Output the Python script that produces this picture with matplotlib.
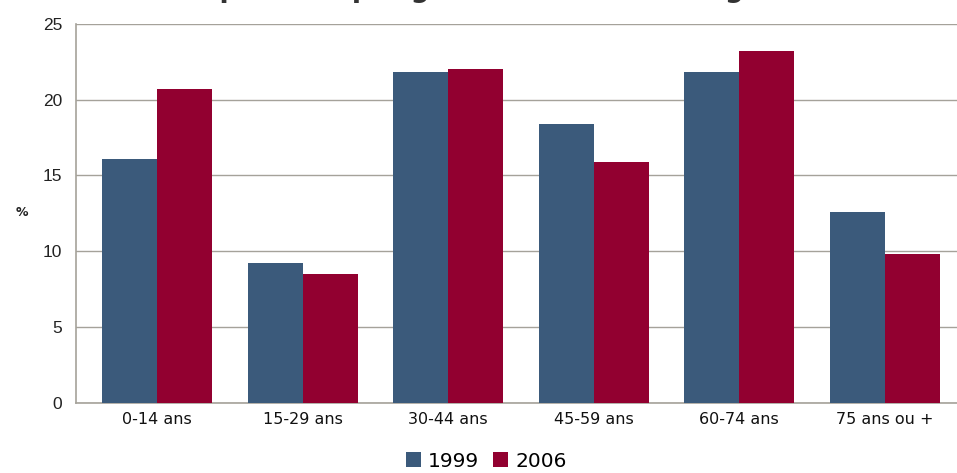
import matplotlib
matplotlib.use("Agg")
import matplotlib.pyplot as plt
import numpy as np

categories = ["0-14 ans", "15-29 ans", "30-44 ans", "45-59 ans", "60-74 ans", "75 ans ou +"]
values_1999 = [16.1, 9.2, 21.8, 18.4, 21.8, 12.6]
values_2006 = [20.7, 8.5, 22.0, 15.9, 23.2, 9.8]
series_labels = ["1999", "2006"]
yticks = [0, 5, 10, 15, 20, 25]
title = "Population par grandes tranches d'âges"

W, H = 957, 473
fig = plt.figure(figsize=(W / 100, H / 100), dpi=100)
ax = fig.add_axes([76 / W, 1 - 402.7 / H, (957 - 76) / W, (402.7 - 24) / H])

blue = "#3b5a7b"
red = "#920030"
grid_c = "#a5a29a"

x = np.arange(len(categories))
bw = 0.378
ax.bar(x - bw / 2, values_1999, width=bw, color=blue, label=series_labels[0], zorder=3)
ax.bar(x + bw / 2, values_2006, width=bw, color=red, label=series_labels[1], zorder=3)

ax.set_xlim(-0.556, 5.495)
ax.set_ylim(0, 25)
ax.set_yticks(yticks)
ax.set_yticklabels([str(t) for t in yticks], fontsize=12.5, color="#222222",
                   family="Liberation Sans")
ax.set_xticks(x)
ax.set_xticklabels(categories, fontsize=11.5, color="#111111")
ax.tick_params(axis="both", length=0)
ax.tick_params(axis="y", pad=10)
ax.tick_params(axis="x", pad=7)
ax.yaxis.grid(True, color=grid_c, linewidth=1.0, zorder=0)
for s in ["top", "right"]:
    ax.spines[s].set_visible(False)
for s in ["left", "bottom"]:
    ax.spines[s].set_color(grid_c)
    ax.spines[s].set_linewidth(1.2)

fig.text(22 / W, 1 - 213 / H, "%", ha="center", va="center",
         fontsize=9, fontweight="bold", color="#222222")

fig.text(480 / W, 1 + 3 / H, title, ha="center", va="baseline",
         fontsize=19, fontweight="bold", color="#333333")

leg = fig.legend(loc="center", bbox_to_anchor=(486 / W, 1 - 461 / H), ncol=2,
                 frameon=False, fontsize=14.5, handlelength=0.75, handleheight=0.75,
                 handletextpad=0.35, columnspacing=0.7)

fig.savefig("out.png", dpi=100)
